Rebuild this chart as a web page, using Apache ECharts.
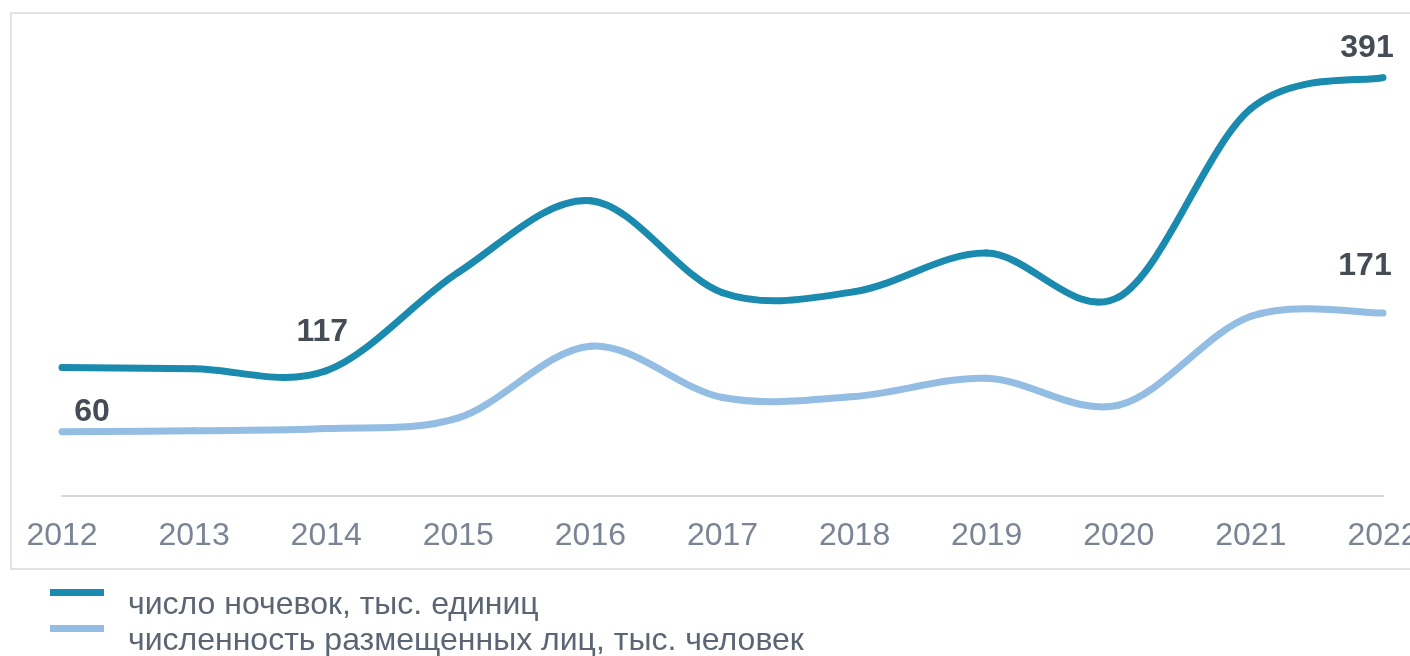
<!DOCTYPE html>
<html>
<head>
<meta charset="utf-8">
<script src="https://cdn.jsdelivr.net/npm/echarts@6/dist/echarts.min.js"></script>
<style>
  html, body { margin: 0; padding: 0; background: #fff; }
  #chart { width: 1410px; height: 656px; }
</style>
</head>
<body>
<div id="chart"></div>
<script>
// годы
var years = ['2012', '2013', '2014', '2015', '2016', '2017', '2018', '2019', '2020', '2021', '2022'];
// число ночевок, тыс. единиц
var nights = [120, 119, 117, 209, 276, 190, 191, 227, 186, 362, 391];
// численность размещенных лиц, тыс. человек
var guests = [60, 61, 63, 73, 140, 92, 93, 110, 85, 168, 171];

var seriesNames = ['число ночевок, тыс. единиц', 'численность размещенных лиц, тыс. человек'];

var labelFont = 'Liberation Sans, Arial, sans-serif';

// сглаженная линия как в Excel: каждый элемент рисует свой участок кривой
function smoothSegment(values, color, marks) {
    return function (params, api) {
        var i = params.dataIndex;
        var n = values.length;
        var pt = function (j) {
            j = Math.max(0, Math.min(n - 1, j));
            return api.coord([j, values[j]]);
        };
        var children = [];
        if (i < n - 1) {
            var p0 = pt(i - 1), p1 = pt(i), p2 = pt(i + 1), p3 = pt(i + 2);
            children.push({
                type: 'bezierCurve',
                shape: {
                    x1: p1[0], y1: p1[1],
                    x2: p2[0], y2: p2[1],
                    cpx1: p1[0] + (p2[0] - p0[0]) / 6,
                    cpy1: p1[1] + (p2[1] - p0[1]) / 6,
                    cpx2: p2[0] - (p3[0] - p1[0]) / 6,
                    cpy2: p2[1] - (p3[1] - p1[1]) / 6
                },
                style: { stroke: color, lineWidth: 7, fill: 'none', lineCap: 'round' }
            });
        }
        if (marks[i]) {
            var p = pt(i);
            children.push({
                type: 'text',
                z2: 10,
                style: {
                    text: String(values[i]),
                    x: p[0] + marks[i][0],
                    y: p[1] + marks[i][1],
                    align: 'center',
                    verticalAlign: 'middle',
                    font: 'bold 32px ' + labelFont,
                    fill: '#464c55'
                }
            });
        }
        return { type: 'group', children: children };
    };
}

function toPairs(values) {
    return values.map(function (v, i) { return [i, v]; });
}

var legendIcon = 'path://M0,0L54,0L54,7L0,7Z M0,33L0.01,33L0.01,33.01Z';

var myChart = echarts.init(document.getElementById('chart'));

var option = {
    animation: false,
    graphic: [
        {
            type: 'rect',
            shape: { x: 11, y: 13, width: 1420, height: 556 },
            style: { fill: 'none', stroke: '#dfe2e6', lineWidth: 2 },
            silent: true
        }
    ],
    legend: [
        {
            data: [seriesNames[0]],
            left: 45,
            top: 584,
            icon: legendIcon,
            itemWidth: 54,
            itemHeight: 33,
            textStyle: { fontSize: 32, fontFamily: labelFont, color: '#5b6573', padding: [0, 0, 0, 19] }
        },
        {
            data: [seriesNames[1]],
            left: 45,
            top: 620,
            icon: legendIcon,
            itemWidth: 54,
            itemHeight: 33,
            textStyle: { fontSize: 32, fontFamily: labelFont, color: '#5b6573', padding: [0, 0, 0, 19] }
        }
    ],
    grid: { left: 62, right: 27, top: 68, bottom: 160, outerBoundsMode: 'none' },
    xAxis: {
        type: 'category',
        boundaryGap: false,
        data: years,
        axisLine: { lineStyle: { color: '#d3d7dd', width: 2 } },
        axisTick: { show: false },
        axisLabel: { fontSize: 32, fontFamily: labelFont, color: '#7a8494', margin: 24 }
    },
    yAxis: {
        type: 'value',
        min: 0,
        max: 400,
        show: false,
        splitLine: { show: false }
    },
    series: [
        {
            name: seriesNames[0],
            type: 'custom',
            clip: false,
            itemStyle: { color: '#1a8aaf' },
            encode: { x: 0, y: 1 },
            renderItem: smoothSegment(nights, '#1a8aaf', { 2: [-4, -39], 10: [-16, -29] }),
            data: toPairs(nights)
        },
        {
            name: seriesNames[1],
            type: 'custom',
            clip: false,
            itemStyle: { color: '#93bde3' },
            encode: { x: 0, y: 1 },
            renderItem: smoothSegment(guests, '#93bde3', { 0: [30, -20], 10: [-18, -47] }),
            data: toPairs(guests)
        }
    ]
};

myChart.setOption(option);
</script>
</body>
</html>
